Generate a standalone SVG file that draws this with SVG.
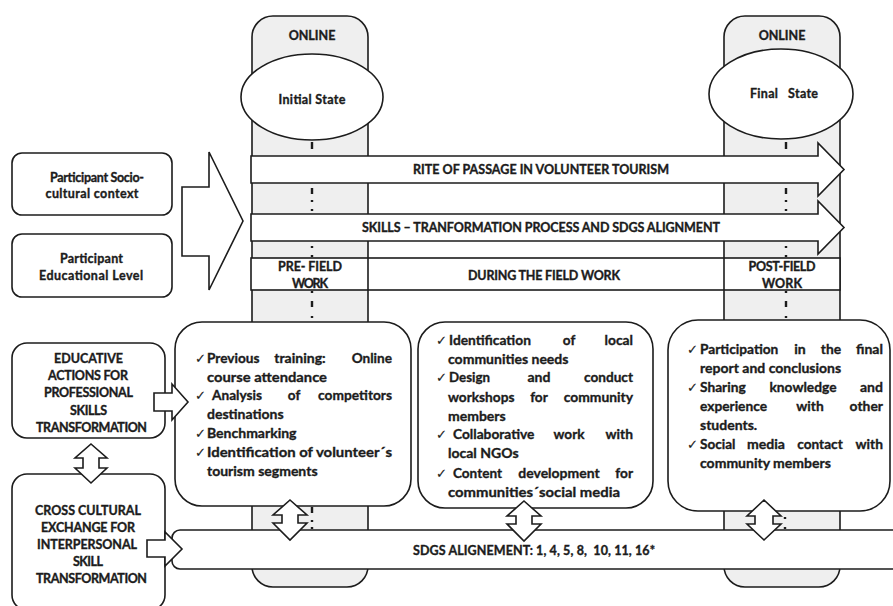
<svg xmlns="http://www.w3.org/2000/svg" width="893" height="606" viewBox="0 0 893 606">
<style>
.ln{stroke:#1c1c1c;stroke-width:1.6;fill:#fff;stroke-linejoin:miter}
.col{stroke:#1c1c1c;stroke-width:1.6;fill:#efefef}
.mk{stroke:#1c1c1c;stroke-width:2.4;fill:none}
text{font-family:Lato,"Liberation Sans","DejaVu Sans",sans-serif;font-weight:bold;fill:#1c1c1c;stroke:#1c1c1c;stroke-width:0.35}
.h{font-size:12.5px;text-anchor:middle}
.b{font-size:14px}
.e{text-anchor:end}
.m{text-anchor:middle}
.ck{font-family:"DejaVu Sans",sans-serif;font-weight:normal;font-size:13px;stroke-width:0.2}
</style>
<rect width="893" height="606" fill="#fff"/>

<g id="column-initial">
<rect class="col" x="252" y="16" width="116" height="571" rx="21"/>
</g>
<g id="column-final">
<rect class="col" x="724" y="16" width="116" height="571" rx="21"/>
</g>

<g id="connectors">
<path class="mk" d="M312 142V149M312 188V194M312 200V202M312 209V211M312 246V248M312 255V257M312 291V293M312 301V307M312 316V318M312 507V513M312 520V522M312 527V529"/>
<path class="mk" d="M786 142V149M786 188V194M786 200V202M786 209V211M786 246V248M786 255V257M786 291V293M786 301V307M786 316V318M785 517V519M785 527V529"/>
</g>

<g id="initial-state">
<ellipse class="ln" cx="312" cy="97" rx="71" ry="43"/>
<text class="h" x="312" y="39.5" font-size="13">ONLINE</text>
<text class="h" x="312" y="103.5" textLength="67">Initial State</text>
</g>
<g id="final-state">
<ellipse class="ln" cx="781" cy="94" rx="72" ry="45"/>
<text class="h" x="782" y="39.5" font-size="13">ONLINE</text>
<text class="h" x="784" y="97.5" xml:space="preserve" textLength="68">Final   State</text>
</g>

<g id="rite-arrow">
<polygon class="ln" points="251,156 818,156 818,143 844,169.5 818,196 818,183 251,183"/>
<text class="h" x="541" y="173.5" textLength="256">RITE OF PASSAGE IN VOLUNTEER TOURISM</text>
</g>
<g id="skills-arrow">
<polygon class="ln" points="251,214 818,214 818,201 844,227.5 818,254 818,241 251,241"/>
<text class="h" x="541" y="232" textLength="358">SKILLS – TRANFORMATION PROCESS AND SDGS ALIGNMENT</text>
</g>

<g id="phase-bar">
<rect class="ln" x="251" y="258" width="589" height="32"/>
<line class="ln" x1="368" y1="258" x2="368" y2="290"/>
<line class="ln" x1="724" y1="258" x2="724" y2="290"/>
<text class="h" x="310" y="271" textLength="64">PRE- FIELD</text>
<text class="h" x="310" y="288" textLength="36">WORK</text>
<text class="h" x="544" y="279.5" textLength="152">DURING THE FIELD WORK</text>
<text class="h" x="782" y="271" textLength="67">POST-FIELD</text>
<text class="h" x="782" y="288" textLength="40">WORK</text>
</g>

<g id="context-arrow">
<polygon class="ln" points="182,187 209,187 209,152 243,221 209,290 209,256 182,256"/>
</g>

<g id="socio-cultural">
<rect class="ln" x="12" y="153" width="160" height="62" rx="10"/>
<text class="h" x="97" y="181.5" textLength="94">Participant Socio-</text>
<text class="h" x="92" y="197.5" textLength="93">cultural context</text>
</g>
<g id="educational-level">
<rect class="ln" x="12" y="234" width="160" height="63" rx="10"/>
<text class="h" x="91.5" y="262.5" textLength="63">Participant</text>
<text class="h" x="91" y="279.5" textLength="104">Educational Level</text>
</g>

<g id="educative-actions">
<rect class="ln" x="12" y="343" width="153" height="95" rx="15"/>
<text class="h" x="88.5" y="362.5" textLength="69">EDUCATIVE</text>
<text class="h" x="88" y="379.5" textLength="80">ACTIONS FOR</text>
<text class="h" x="88.5" y="396.5" textLength="89">PROFESSIONAL</text>
<text class="h" x="88.5" y="414.5" textLength="37">SKILLS</text>
<text class="h" x="91.5" y="431.5" textLength="111">TRANSFORMATION</text>
</g>

<g id="cross-cultural">
<rect class="ln" x="12" y="474" width="153" height="136" rx="15"/>
<text class="h" x="88" y="514.5" textLength="106">CROSS CULTURAL</text>
<text class="h" x="88" y="531.5" textLength="94">EXCHANGE FOR</text>
<text class="h" x="87" y="548.5" textLength="100">INTERPERSONAL</text>
<text class="h" x="88" y="565.5" textLength="30">SKILL</text>
<text class="h" x="91.5" y="582.5" textLength="111">TRANSFORMATION</text>
</g>

<g id="pre-field-box">
<rect class="ln" x="175" y="322" width="236" height="184" rx="27"/>
<text class="ck" x="195" y="363">✓</text>
<text class="b" x="207" y="363" textLength="52.5" lengthAdjust="spacingAndGlyphs">Previous</text>
<text class="b m" x="300" y="363" textLength="51.5" lengthAdjust="spacingAndGlyphs">training:</text>
<text class="b e" x="392" y="363" textLength="40.3" lengthAdjust="spacingAndGlyphs">Online</text>
<text class="b" x="207" y="382" textLength="120" lengthAdjust="spacingAndGlyphs">course attendance</text>
<text class="ck" x="195" y="400">✓</text>
<text class="b" x="212" y="400" textLength="49.9" lengthAdjust="spacingAndGlyphs">Analysis</text>
<text class="b m" x="294" y="400" textLength="12.5" lengthAdjust="spacingAndGlyphs">of</text>
<text class="b e" x="392" y="400" textLength="73.9" lengthAdjust="spacingAndGlyphs">competitors</text>
<text class="b" x="207" y="419">destinations</text>
<text class="ck" x="195" y="438">✓</text>
<text class="b" x="207" y="438">Benchmarking</text>
<text class="ck" x="195" y="457">✓</text>
<text class="b" x="207" y="457" textLength="185" lengthAdjust="spacingAndGlyphs">Identification of volunteer´s</text>
<text class="b" x="207" y="476">tourism segments</text>
</g>

<g id="field-work-box">
<rect class="ln" x="418" y="322" width="235" height="186" rx="27"/>
<text class="ck" x="436" y="345">✓</text>
<text class="b" x="449" y="345" textLength="81.9" lengthAdjust="spacingAndGlyphs">Identification</text>
<text class="b m" x="569" y="345" textLength="12.5" lengthAdjust="spacingAndGlyphs">of</text>
<text class="b e" x="633" y="345" textLength="28.5" lengthAdjust="spacingAndGlyphs">local</text>
<text class="b" x="448" y="364">communities needs</text>
<text class="ck" x="436" y="382">✓</text>
<text class="b" x="449" y="382" textLength="41" lengthAdjust="spacingAndGlyphs">Design</text>
<text class="b m" x="539" y="382" textLength="23" lengthAdjust="spacingAndGlyphs">and</text>
<text class="b e" x="633" y="382" textLength="49" lengthAdjust="spacingAndGlyphs">conduct</text>
<text class="b" x="448" y="402" textLength="66.4" lengthAdjust="spacingAndGlyphs">workshops</text>
<text class="b m" x="539" y="402" textLength="17.7" lengthAdjust="spacingAndGlyphs">for</text>
<text class="b e" x="633" y="402" textLength="69.3" lengthAdjust="spacingAndGlyphs">community</text>
<text class="b" x="448" y="421">members</text>
<text class="ck" x="436" y="439">✓</text>
<text class="b" x="453" y="439" textLength="81.4" lengthAdjust="spacingAndGlyphs">Collaborative</text>
<text class="b m" x="569" y="439" textLength="31" lengthAdjust="spacingAndGlyphs">work</text>
<text class="b e" x="633" y="439" textLength="27.5" lengthAdjust="spacingAndGlyphs">with</text>
<text class="b" x="448" y="458">local NGOs</text>
<text class="ck" x="436" y="478">✓</text>
<text class="b" x="453" y="478" textLength="49" lengthAdjust="spacingAndGlyphs">Content</text>
<text class="b m" x="559" y="478" textLength="81.3" lengthAdjust="spacingAndGlyphs">development</text>
<text class="b e" x="633" y="478" textLength="17.7" lengthAdjust="spacingAndGlyphs">for</text>
<text class="b" x="448" y="497" textLength="172" lengthAdjust="spacingAndGlyphs">communities´social media</text>
</g>

<g id="post-field-box">
<rect class="ln" x="668" y="320" width="222" height="191" rx="30"/>
<text class="ck" x="687" y="354">✓</text>
<text class="b" x="700" y="354" textLength="78.3" lengthAdjust="spacingAndGlyphs">Participation</text>
<text class="b m" x="800" y="354" textLength="11.5" lengthAdjust="spacingAndGlyphs">in</text>
<text class="b m" x="831" y="354" textLength="20.3" lengthAdjust="spacingAndGlyphs">the</text>
<text class="b e" x="883" y="354" textLength="27" lengthAdjust="spacingAndGlyphs">final</text>
<text class="b" x="700" y="373">report and conclusions</text>
<text class="ck" x="687" y="392">✓</text>
<text class="b" x="700" y="392" textLength="45.7" lengthAdjust="spacingAndGlyphs">Sharing</text>
<text class="b m" x="803" y="392" textLength="67" lengthAdjust="spacingAndGlyphs">knowledge</text>
<text class="b e" x="883" y="392" textLength="23" lengthAdjust="spacingAndGlyphs">and</text>
<text class="b" x="700" y="411" textLength="67" lengthAdjust="spacingAndGlyphs">experience</text>
<text class="b m" x="810" y="411" textLength="27.5" lengthAdjust="spacingAndGlyphs">with</text>
<text class="b e" x="883" y="411" textLength="33.4" lengthAdjust="spacingAndGlyphs">other</text>
<text class="b" x="700" y="430">students.</text>
<text class="ck" x="687" y="449">✓</text>
<text class="b" x="700" y="449" textLength="35.4" lengthAdjust="spacingAndGlyphs">Social</text>
<text class="b m" x="766" y="449" textLength="38" lengthAdjust="spacingAndGlyphs">media</text>
<text class="b m" x="820" y="449" textLength="45.5" lengthAdjust="spacingAndGlyphs">contact</text>
<text class="b e" x="883" y="449" textLength="27.5" lengthAdjust="spacingAndGlyphs">with</text>
<text class="b" x="700" y="468">community members</text>
</g>

<g id="sdgs-bar">
<rect class="ln" x="172" y="530" width="740" height="39" rx="8"/>
<text class="h" x="534" y="554.5" textLength="242" xml:space="preserve">SDGS ALIGNEMENT: 1, 4, 5, 8,  10, 11, 16*</text>
</g>

<g id="block-arrows">
<polygon class="ln" points="154,393 172,393 172,384 188,402 172,420 172,411 154,411"/>
<polygon class="ln" points="147,540 165,540 165,532 182,549 165,566 165,557 147,557"/>
<polygon class="ln" points="91,444 107,458 99,458 99,468 107,468 91,483 75,468 83,468 83,458 75,458"/>
<polygon class="ln" points="290,500 307,515 298,515 298,523 307,523 290,540 273,523 282,523 282,515 273,515"/>
<polygon class="ln" points="524,501 541,516 532,516 532,524 541,524 524,541 507,524 516,524 516,516 507,516"/>
<polygon class="ln" points="764,500 781,516 773,516 773,524 781,524 764,540 747,524 755,524 755,516 747,516"/>
</g>
</svg>
